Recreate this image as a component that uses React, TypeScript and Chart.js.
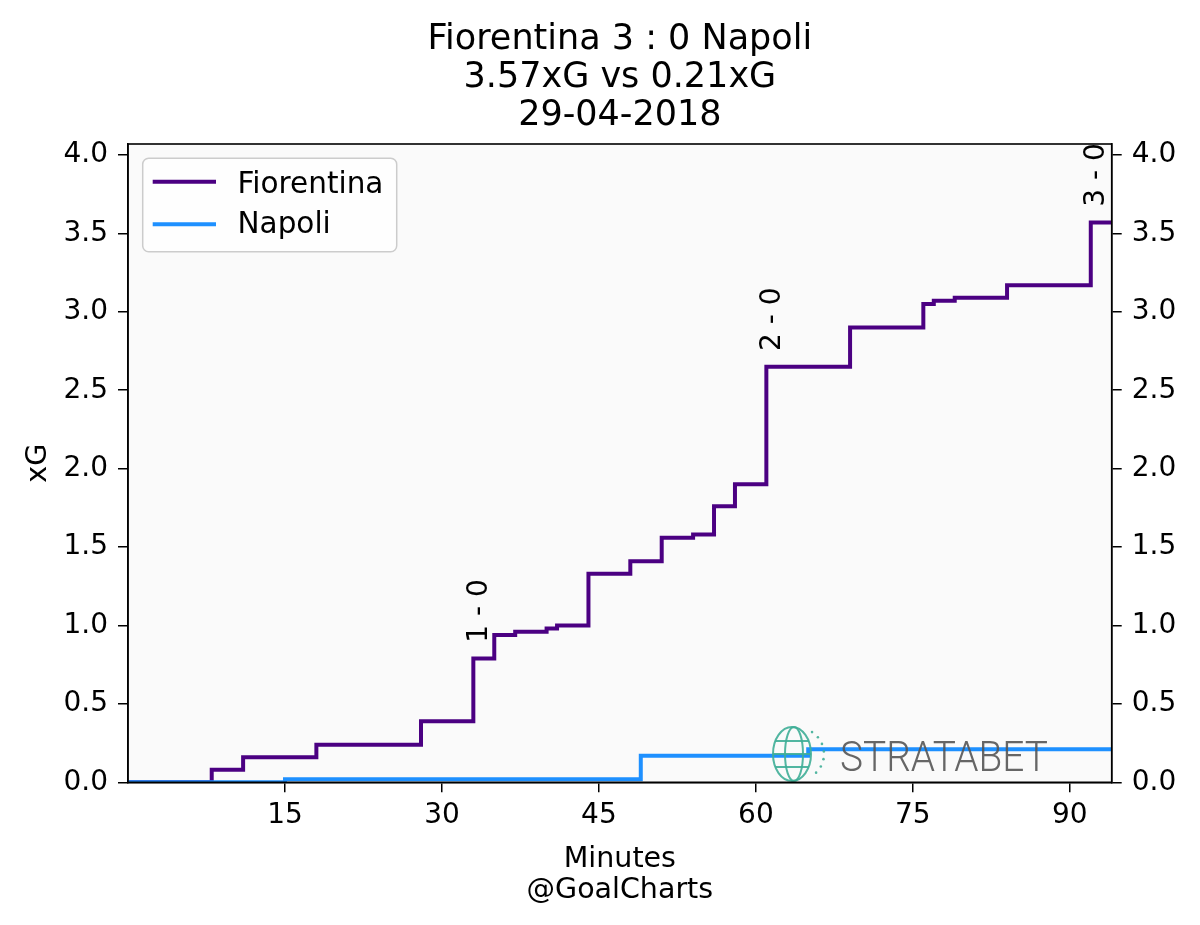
import React, { useEffect, useRef } from "react";
import { Chart, registerables } from "chart.js";

Chart.register(...registerables);

// ---- Data ----
const fiorentinaMinutes = [0, 8, 11, 18, 28, 33, 35, 37, 40, 41, 44, 48, 51, 54, 56, 58, 61, 69, 76, 77, 79, 84, 92, 94];
const fiorentinaXG = [0, 0.08, 0.16, 0.24, 0.39, 0.79, 0.94, 0.96, 0.98, 1.0, 1.33, 1.41, 1.56, 1.58, 1.76, 1.9, 2.65, 2.9, 3.05, 3.07, 3.09, 3.17, 3.57, 3.57];
const napoliMinutes = [0, 15, 49, 65, 94];
const napoliXG = [0, 0.02, 0.17, 0.21, 0.21];
const goalMinutes = [33, 61, 92];
const goalLabels = ["1 - 0", "2 - 0", "3 - 0"];
const xTicks = [15, 30, 45, 60, 75, 90];
const yTicks = [0, 0.5, 1.0, 1.5, 2.0, 2.5, 3.0, 3.5, 4.0];
const titleLines = ["Fiorentina 3 : 0 Napoli", "3.57xG vs 0.21xG", "29-04-2018"];
const xLabelLines = ["Minutes", "@GoalCharts"];
const yLabel = "xG";
const seriesNames = ["Fiorentina", "Napoli"];
const seriesColors = ["#4B0082", "#1E90FF"];
const X_MAX = 94;
const Y_MAX = 4.07;

const FONT = "'DejaVu Sans', sans-serif";
const W = 1200;
const H = 925;
const AREA = { left: 128, right: 1111.7, top: 144, bottom: 782.3 };

function valueAt(minutes: number[], values: number[], m: number) {
  let v = 0;
  for (let i = 0; i < minutes.length; i++) {
    if (minutes[i] <= m) v = values[i];
  }
  return v;
}

const decorPlugin = {
  id: "decor",
  beforeDraw(chart: any) {
    const { ctx, chartArea } = chart;
    ctx.save();
    ctx.fillStyle = "#ffffff";
    ctx.fillRect(0, 0, chart.width, chart.height);
    ctx.fillStyle = "#fafafa";
    ctx.fillRect(chartArea.left, chartArea.top, chartArea.right - chartArea.left, chartArea.bottom - chartArea.top);
    ctx.restore();
  },
  afterDatasetsDraw(chart: any) {
    const { ctx } = chart;
    const xs = chart.scales.x;
    const ys = chart.scales.y;
    ctx.save();
    // goal annotations
    const aSize = 28;
    ctx.font = `${aSize}px ${FONT}`;
    ctx.fillStyle = "#000";
    goalMinutes.forEach((m, i) => {
      const v = valueAt(fiorentinaMinutes, fiorentinaXG, m);
      const px = xs.getPixelForValue(m) + 3;
      const py = ys.getPixelForValue(v + 0.1);
      ctx.save();
      ctx.translate(px, py);
      ctx.rotate(-Math.PI / 2);
      ctx.textAlign = "left";
      ctx.textBaseline = "alphabetic";
      ctx.fillText(goalLabels[i], 0, (0.729 * aSize) / 2);
      ctx.restore();
    });

    // Stratabet logo (figure overlay)
    ctx.globalAlpha = 0.9;
    const gx = 792;
    const gy = 754;
    ctx.strokeStyle = "#3fae97";
    ctx.lineWidth = 2;
    ctx.beginPath();
    ctx.ellipse(gx, gy, 19, 27, 0, 0, Math.PI * 2);
    ctx.stroke();
    ctx.beginPath();
    ctx.ellipse(gx + 2, gy, 9, 27, 0, 0, Math.PI * 2);
    ctx.stroke();
    [-13, 0, 13].forEach((dy) => {
      const half = 19 * Math.sqrt(1 - (dy * dy) / (27 * 27));
      ctx.beginPath();
      ctx.moveTo(gx - half, gy + dy);
      ctx.lineTo(gx + half, gy + dy);
      ctx.stroke();
    });
    ctx.fillStyle = "#3fae97";
    for (let k = 0; k < 7; k++) {
      const ang = -1.0 + k * 0.3;
      ctx.beginPath();
      ctx.arc(gx + 6 + 26 * Math.cos(ang), gy + 26 * Math.sin(ang), 1.3, 0, Math.PI * 2);
      ctx.fill();
    }
    ctx.fillStyle = "#555555";
    ctx.font = `300 43px Roboto, ${FONT}`;
    const txt = "STRATABET";
    const tw = ctx.measureText(txt).width;
    ctx.save();
    ctx.translate(840, 770.7);
    ctx.scale(208 / tw, 1);
    ctx.textAlign = "left";
    ctx.textBaseline = "alphabetic";
    ctx.fillText(txt, 0, 0);
    ctx.restore();
    ctx.globalAlpha = 1;
    ctx.restore();
  },
  afterDraw(chart: any) {
    const { ctx, chartArea } = chart;
    ctx.save();
    // spines
    ctx.strokeStyle = "#000";
    ctx.lineWidth = 1.6;
    ctx.strokeRect(chartArea.left, chartArea.top, chartArea.right - chartArea.left, chartArea.bottom - chartArea.top);

    // legend
    const lx0 = 142.7, ly0 = 158.3, lx1 = 396.7, ly1 = 251.7;
    ctx.beginPath();
    ctx.roundRect(lx0, ly0, lx1 - lx0, ly1 - ly0, 6);
    ctx.fillStyle = "rgba(255,255,255,0.8)";
    ctx.fill();
    ctx.strokeStyle = "#cccccc";
    ctx.lineWidth = 1.5;
    ctx.stroke();
    const rowsY = [181.7, 224.3];
    const baseY = [192.5, 233.3];
    ctx.font = `29.5px ${FONT}`;
    ctx.textAlign = "left";
    ctx.textBaseline = "alphabetic";
    seriesNames.forEach((n, i) => {
      ctx.strokeStyle = seriesColors[i];
      ctx.lineWidth = 4;
      ctx.beginPath();
      ctx.moveTo(152.7, rowsY[i]);
      ctx.lineTo(216, rowsY[i]);
      ctx.stroke();
      ctx.fillStyle = "#000";
      ctx.fillText(n, 237.5, baseY[i]);
    });

    // title
    const cx = (chartArea.left + chartArea.right) / 2;
    ctx.textAlign = "center";
    ctx.font = `35px ${FONT}`;
    const tBase = [48.5, 86.8, 125];
    titleLines.forEach((t, i) => ctx.fillText(t, cx, tBase[i]));

    // x label
    ctx.font = `28.5px ${FONT}`;
    const xBase = [866.7, 898.3];
    xLabelLines.forEach((t, i) => ctx.fillText(t, cx, xBase[i]));

    // y label
    ctx.save();
    ctx.translate(46, (chartArea.top + chartArea.bottom) / 2);
    ctx.rotate(-Math.PI / 2);
    ctx.textAlign = "center";
    ctx.fillText(yLabel, 0, 0);
    ctx.restore();
    ctx.restore();
  },
};

export default function App() {
  const ref = useRef<HTMLCanvasElement | null>(null);
  useEffect(() => {
    if (!ref.current) return;
    const tickFont = { family: FONT, size: 28 };
    const yAxisCommon = (position: "left" | "right", width: number) => ({
      type: "linear" as const,
      position,
      min: 0,
      max: Y_MAX,
      afterBuildTicks: (s: any) => {
        s.ticks = yTicks.map((v) => ({ value: v }));
      },
      afterFit: (s: any) => {
        s.width = width;
      },
      grid: { drawOnChartArea: false, drawTicks: true, tickLength: 10, color: "#000", lineWidth: 1.5 },
      border: { display: true, color: "#000", width: 1.5 },
      ticks: {
        color: "#000",
        font: tickFont,
        padding: 10,
        autoSkip: false,
        callback: (v: any) => Number(v).toFixed(1),
      },
    });
    const chart = new Chart(ref.current, {
      type: "line",
      data: {
        datasets: [
          {
            label: seriesNames[0],
            data: fiorentinaMinutes.map((m, i) => ({ x: m, y: fiorentinaXG[i] })),
            borderColor: seriesColors[0],
            backgroundColor: seriesColors[0],
            borderWidth: 4,
            stepped: "before",
            pointRadius: 0,
            fill: false,
            order: 1,
          },
          {
            label: seriesNames[1],
            data: napoliMinutes.map((m, i) => ({ x: m, y: napoliXG[i] })),
            borderColor: seriesColors[1],
            backgroundColor: seriesColors[1],
            borderWidth: 4,
            stepped: "before",
            pointRadius: 0,
            fill: false,
            order: 0,
          },
        ],
      },
      options: {
        animation: false,
        responsive: false,
        maintainAspectRatio: false,
        devicePixelRatio: 1,
        layout: { padding: { top: AREA.top, left: 0, right: 0, bottom: 0 } },
        plugins: {
          legend: { display: false },
          title: { display: false },
          tooltip: { enabled: false },
        },
        scales: {
          x: {
            type: "linear",
            position: "bottom",
            min: 0,
            max: X_MAX,
            afterBuildTicks: (s: any) => {
              s.ticks = xTicks.map((v) => ({ value: v }));
            },
            afterFit: (s: any) => {
              s.height = H - AREA.bottom;
            },
            grid: { drawOnChartArea: false, drawTicks: true, tickLength: 10, color: "#000", lineWidth: 1.5 },
            border: { display: true, color: "#000", width: 1.5 },
            ticks: { color: "#000", font: tickFont, padding: 7, maxRotation: 0, autoSkip: false },
          },
          y: yAxisCommon("left", AREA.left),
          y2: yAxisCommon("right", W - AREA.right),
        },
      } as any,
      plugins: [decorPlugin],
    });
    return () => chart.destroy();
  }, []);
  return (
    <div style={{ position: "fixed", left: 0, top: 0, width: W, height: H, background: "#fff" }}>
      <canvas ref={ref} width={W} height={H} style={{ width: W, height: H, display: "block" }} />
    </div>
  );
}
